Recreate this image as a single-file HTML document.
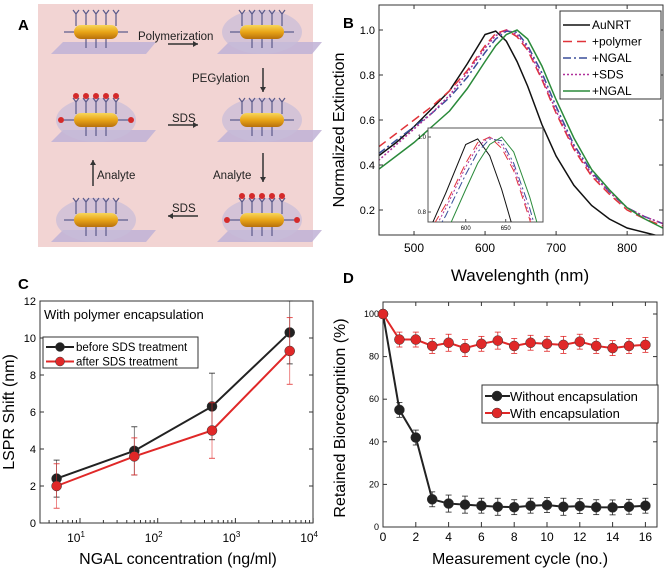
<!DOCTYPE html>
<html><head><meta charset="utf-8"><style>
html,body{margin:0;padding:0;background:#fff;}
svg{display:block;font-family:"Liberation Sans",sans-serif;}
</style></head><body>
<svg id="fig" width="667" height="575" viewBox="0 0 667 575" xmlns="http://www.w3.org/2000/svg">
<!-- Panel A -->
<g id="panelA">
<text x="18" y="30" font-size="15" font-weight="bold">A</text>
<rect x="38" y="4" width="275" height="243" fill="#f2d4d3"/>
</g>
<!-- Panel B -->
<g id="panelB">
<text x="343" y="28" font-size="15" font-weight="bold">B</text>
<text transform="translate(344,130) rotate(-90)" text-anchor="middle" font-size="16">Normalized Extinction</text>
<text x="520" y="281" text-anchor="middle" font-size="17">Wavelenghth (nm)</text>
</g>
<text x="343" y="283" font-size="15" font-weight="bold">D</text>
<text x="18" y="289" font-size="15" font-weight="bold">C</text>
<g id="panelC">
<text transform="translate(14,412) rotate(-90)" text-anchor="middle" font-size="16">LSPR Shift (nm)</text>
<text x="178" y="564" text-anchor="middle" font-size="16">NGAL concentration (ng/ml)</text>
</g>
<g id="panelD">
<text transform="translate(345,418) rotate(-90)" text-anchor="middle" font-size="16">Retained Biorecognition (%)</text>
<text x="520" y="564" text-anchor="middle" font-size="16">Measurement cycle (no.)</text>
</g>
</svg>
<script>
// ---- Panel B data ----
const wavelengths=[450,475,500,525,550,575,600,615,630,645,660,680,700,725,750,775,800,825,850];
const seriesNames=["AuNRT","+polymer","+NGAL","+SDS","+NGAL"];
const auNRT=[.44,.50,.57,.65,.73,.85,.98,.995,.95,.86,.75,.58,.44,.31,.22,.16,.12,.10,.08];
const polymer=[.48,.54,.60,.66,.73,.82,.93,.985,1.0,.97,.91,.78,.63,.47,.35,.27,.20,.16,.13];
const ngal1=[.45,.51,.57,.63,.70,.79,.90,.96,.995,.99,.93,.81,.66,.49,.37,.28,.21,.17,.14];
const sds=[.42,.49,.56,.63,.71,.81,.92,.975,1.0,.98,.92,.79,.64,.48,.36,.28,.21,.17,.14];
const ngal2=[.38,.44,.50,.57,.64,.74,.86,.93,.98,1.0,.96,.84,.69,.52,.38,.29,.21,.16,.12];
const bXTicks=[500,600,700,800];
const bYTicks=[0.2,0.4,0.6,0.8,1.0];
const insetXTicks=[600,650];
const insetYTicks=[0.8,1.0];
// ---- Panel C data ----
const concentrations=[5,50,500,5000];
const beforeSDS=[2.4,3.9,6.3,10.3];
const beforeErr=[1.0,1.3,1.8,1.7];
const afterSDS=[2.0,3.6,5.0,9.3];
const afterErr=[1.2,1.0,1.5,1.8];
const cYTicks=[0,2,4,6,8,10,12];
const cXTickExp=[1,2,3,4];
// ---- Panel D data ----
const cycles=[0,1,2,3,4,5,6,7,8,9,10,11,12,13,14,15,16];
const withoutEnc=[100,55,42,13,11,10.5,10,9.5,9.3,10,10.3,9.5,9.8,9.3,9.2,9.5,10];
const withEnc=[100,88,88,85,86.5,84,86,87.5,85,86.5,86,85.5,87,85,84,85,85.5];
const dErr=[0,3.5,3.5,3.5,4,4,3.5,4,3.5,3.5,3.5,4,3.5,3.5,3.5,3.5,3.5];
const dXTicks=[0,2,4,6,8,10,12,14,16];
const dYTicks=[0,20,40,60,80,100];

const NS="http://www.w3.org/2000/svg";
function mk(tag,attrs,parent,text){const e=document.createElementNS(NS,tag);for(const k in attrs)e.setAttribute(k,attrs[k]);if(text!==undefined)e.textContent=text;parent.appendChild(e);return e;}
const svg=document.getElementById('fig');

// ---- Panel A schematic ----
const pA=document.getElementById('panelA');
const rods=[[96,32,false,false],[262,32,true,false],[96,120,true,true],[262,120,true,false],[96,220,true,false],[262,220,true,true]];
const defs=mk('defs',{},svg);
const lg=mk('linearGradient',{id:'gold',x1:0,y1:0,x2:0,y2:1},defs);
mk('stop',{offset:'0','stop-color':'#f7d65a'},lg);mk('stop',{offset:'0.5','stop-color':'#e8a417'},lg);mk('stop',{offset:'1','stop-color':'#b8700c'},lg);
rods.forEach((r,i)=>{
  const [cx,cy,shell,red]=r;
  const g=mk('g',{},pA);
  
  
  mk('polygon',{points:`${cx-45},${cy+22} ${cx+50},${cy+22} ${cx+60},${cy+10} ${cx-33},${cy+10}`,fill:'#c0b2d6',opacity:0.85},g);
  if(shell) mk('ellipse',{cx:cx,cy:cy,rx:40,ry:22,fill:'#c8bcd8',opacity:0.7},g);
  for(let k=-2;k<=2;k++){
    mk('line',{x1:cx+k*10,y1:cy-6,x2:cx+k*10,y2:cy-18,stroke:'#5a5a8a','stroke-width':1.2},g);
    mk('path',{d:`M${cx+k*10-3},${cy-22} L${cx+k*10},${cy-18} L${cx+k*10+3},${cy-22}`,stroke:'#5a5a8a',fill:'none','stroke-width':1.2},g);
    if(Math.abs(k)<2) mk('line',{x1:cx+k*10,y1:cy+6,x2:cx+k*10,y2:cy+16,stroke:'#5a5a8a','stroke-width':1.2},g);
    if(red) mk('circle',{cx:cx+k*10,cy:cy-24,r:3,fill:'#d42a2a'},g);
  }
  mk('line',{x1:cx-22,y1:cy,x2:cx-32,y2:cy,stroke:'#5a5a8a','stroke-width':1.2},g);
  mk('line',{x1:cx+22,y1:cy,x2:cx+32,y2:cy,stroke:'#5a5a8a','stroke-width':1.2},g);
  if(red){mk('circle',{cx:cx-35,cy:cy,r:3,fill:'#d42a2a'},g);mk('circle',{cx:cx+35,cy:cy,r:3,fill:'#d42a2a'},g);}
  mk('rect',{x:cx-22,y:cy-7,width:44,height:14,rx:7,fill:'url(#gold)'},g);
});
function arrow(x1,y1,x2,y2,name){
  const g=mk('g',{},pA);
  
  
  mk('line',{x1,y1,x2,y2,stroke:'#333','stroke-width':1.5},g);
  const a=Math.atan2(y2-y1,x2-x1),s=5;
  mk('polygon',{points:`${x2},${y2} ${x2-s*Math.cos(a)+3*Math.sin(a)},${y2-s*Math.sin(a)-3*Math.cos(a)} ${x2-s*Math.cos(a)-3*Math.sin(a)},${y2-s*Math.sin(a)+3*Math.cos(a)}`,fill:'#333'},g);
}
const labA=[[138,40,'Polymerization','start'],[192,82,'PEGylation','start'],[172,122,'SDS','start'],[97,179,'Analyte','start'],[213,179,'Analyte','start'],[172,212,'SDS','start']];
labA.forEach(l=>{const t=mk('text',{x:l[0],y:l[1],'font-size':11.5,'text-anchor':l[3],fill:'#222'},pA,l[2]);});
arrow(168,44,198,44,'arrow-polymerization');
arrow(263,68,263,92,'arrow-pegylation');
arrow(168,125,198,125,'arrow-sds-right');
arrow(263,153,263,182,'arrow-analyte-down');
arrow(198,216,168,216,'arrow-sds-left');
arrow(93,186,93,160,'arrow-analyte-up');

// ---- Panel B chart ----
const pB=document.getElementById('panelB');
const bx=v=>378.5+(v-450)*0.7104, by=v=>30+(1.0-v)*225;
const colors=['#111','#e0343a','#3a4f9a','#b0309a','#2a8a3a'];
const dashes=['none','9,5','8,3,2,3','2,2','none'];
const allSeries=[auNRT,polymer,ngal1,sds,ngal2];
const clipB=mk('clipPath',{id:'clipB'},defs);mk('rect',{x:379,y:5,width:284,height:230},clipB);
allSeries.forEach((s,i)=>{
  const p=mk('polyline',{points:wavelengths.map((w,j)=>bx(w)+','+by(s[j])).join(' '),fill:'none',stroke:colors[i],'stroke-width':1.5,'stroke-dasharray':dashes[i],'clip-path':'url(#clipB)'},pB);
  
  
});
const frameB=mk('rect',{x:379,y:5,width:284,height:230,fill:'none',stroke:'#333','stroke-width':1},pB);


bXTicks.forEach(t=>{mk('line',{x1:bx(t),y1:235,x2:bx(t),y2:231,stroke:'#333'},pB);mk('line',{x1:bx(t),y1:5,x2:bx(t),y2:9,stroke:'#333'},pB);const l=mk('text',{x:bx(t),y:252,'text-anchor':'middle','font-size':12},pB,t);});
bYTicks.forEach(t=>{mk('line',{x1:379,y1:by(t),x2:383,y2:by(t),stroke:'#333'},pB);mk('line',{x1:663,y1:by(t),x2:659,y2:by(t),stroke:'#333'},pB);const l=mk('text',{x:375,y:by(t)+4,'text-anchor':'end','font-size':11},pB,t.toFixed(1));});
// legend B
const legB=mk('g',{},pB);


mk('rect',{x:560,y:11,width:101,height:88,fill:'#fff',stroke:'#333'},legB);
seriesNames.forEach((n,i)=>{const y=25+i*16.5;mk('line',{x1:563,y1:y,x2:590,y2:y,stroke:colors[i],'stroke-width':1.5,'stroke-dasharray':dashes[i]},legB);const t=mk('text',{x:592,y:y+4,'font-size':12},legB,n);});
// inset
const ix=v=>465.7+(v-600)*0.8, iy=v=>137+(1.0-v)*375;
const clipI=mk('clipPath',{id:'clipI'},defs);mk('rect',{x:428,y:128,width:115,height:94},clipI);
const inset=mk('g',{},pB);


mk('rect',{x:428,y:128,width:115,height:94,fill:'#fff',stroke:'#555'},inset);
allSeries.forEach((s,i)=>{
  const p=mk('polyline',{points:wavelengths.map((w,j)=>ix(w)+','+iy(s[j])).join(' '),fill:'none',stroke:colors[i],'stroke-width':1,'stroke-dasharray':dashes[i],'clip-path':'url(#clipI)'},inset);
  
  
});
insetXTicks.forEach(t=>{mk('line',{x1:ix(t),y1:222,x2:ix(t),y2:219,stroke:'#555'},inset);mk('text',{x:ix(t),y:230,'text-anchor':'middle','font-size':6},inset,t);});
insetYTicks.forEach(t=>{mk('line',{x1:428,y1:iy(t),x2:431,y2:iy(t),stroke:'#555'},inset);mk('text',{x:426,y:iy(t)+2,'text-anchor':'end','font-size':6},inset,t.toFixed(1));});

// ---- Panel C ----
const pC=document.getElementById('panelC');
const cx=v=>80+(Math.log10(v)-1)*77.7, cy=v=>523-v*18.5;
mk('rect',{x:40,y:301,width:273,height:222,fill:'none',stroke:'#333'},pC);
cYTicks.forEach(t=>{mk('line',{x1:40,y1:cy(t),x2:44,y2:cy(t),stroke:'#333'},pC);mk('line',{x1:313,y1:cy(t),x2:309,y2:cy(t),stroke:'#333'},pC);const l=mk('text',{x:36,y:cy(t)+4,'text-anchor':'end','font-size':11},pC,t);});
cXTickExp.forEach(e=>{const x=cx(Math.pow(10,e));mk('line',{x1:x,y1:523,x2:x,y2:518,stroke:'#333'},pC);const l=mk('text',{x:x-4,y:542,'text-anchor':'middle','font-size':12},pC,'10');mk('tspan',{dy:-5,'font-size':8},l,e);
  for(let m=2;m<10;m++){const v=Math.pow(10,e-1)*m;const xx=cx(v);if(xx>40)mk('line',{x1:xx,y1:523,x2:xx,y2:520,stroke:'#333'},pC);}});
function cSeries(vals,errs,color,name){
  const g=mk('g',{},pC);
  
  
  vals.forEach((v,i)=>{const x=cx(concentrations[i]);mk('line',{x1:x,y1:cy(v-errs[i]),x2:x,y2:cy(v+errs[i]),stroke:color,'stroke-width':0.8,opacity:0.7},g);mk('line',{x1:x-3,y1:cy(v-errs[i]),x2:x+3,y2:cy(v-errs[i]),stroke:color,'stroke-width':0.8},g);mk('line',{x1:x-3,y1:cy(v+errs[i]),x2:x+3,y2:cy(v+errs[i]),stroke:color,'stroke-width':0.8},g);});
  mk('polyline',{points:vals.map((v,i)=>cx(concentrations[i])+','+cy(v)).join(' '),fill:'none',stroke:color,'stroke-width':2},g);
  vals.forEach((v,i)=>{const c=mk('circle',{cx:cx(concentrations[i]),cy:cy(v),r:5,fill:color,stroke:'#333','stroke-width':0.5},g);});
}
cSeries(beforeSDS,beforeErr,'#222','series-before-sds');
cSeries(afterSDS,afterErr,'#e02828','series-after-sds');
mk('text',{x:44,y:319,'font-size':13},pC,'With polymer encapsulation');
const legC=mk('g',{},pC);


mk('rect',{x:43,y:337,width:155,height:31,fill:'#fff',stroke:'#333'},legC);
[['before SDS treatment','#222'],['after SDS treatment','#e02828']].forEach((e,i)=>{const y=347+i*14.5;mk('line',{x1:46,y1:y,x2:74,y2:y,stroke:e[1],'stroke-width':2},legC);mk('circle',{cx:60,cy:y,r:4.5,fill:e[1],stroke:'#333','stroke-width':0.5},legC);mk('text',{x:76,y:y+4,'font-size':11.5},legC,e[0]);});

// ---- Panel D ----
const pD=document.getElementById('panelD');
const dx=v=>383+v*16.4, dy=v=>527-v*2.13;
mk('rect',{x:383,y:302,width:274,height:225,fill:'none',stroke:'#333'},pD);
dXTicks.forEach(t=>{mk('line',{x1:dx(t),y1:527,x2:dx(t),y2:522,stroke:'#333'},pD);mk('line',{x1:dx(t),y1:302,x2:dx(t),y2:306,stroke:'#333'},pD);const l=mk('text',{x:dx(t),y:541,'text-anchor':'middle','font-size':12},pD,t);});
dYTicks.forEach(t=>{mk('line',{x1:383,y1:dy(t),x2:387,y2:dy(t),stroke:'#333'},pD);mk('line',{x1:657,y1:dy(t),x2:653,y2:dy(t),stroke:'#333'},pD);const l=mk('text',{x:379,y:dy(t)+3,'text-anchor':'end','font-size':9},pD,t);});
function dSeries(vals,color,name){
  const g=mk('g',{},pD);
  
  
  vals.forEach((v,i)=>{if(!dErr[i])return;const x=dx(cycles[i]);[[v-dErr[i],v+dErr[i]]].forEach(([a,b])=>{mk('line',{x1:x,y1:dy(a),x2:x,y2:dy(b),stroke:color,'stroke-width':0.8},g);mk('line',{x1:x-3,y1:dy(a),x2:x+3,y2:dy(a),stroke:color,'stroke-width':0.8},g);mk('line',{x1:x-3,y1:dy(b),x2:x+3,y2:dy(b),stroke:color,'stroke-width':0.8},g);});});
  mk('polyline',{points:vals.map((v,i)=>dx(cycles[i])+','+dy(v)).join(' '),fill:'none',stroke:color,'stroke-width':2},g);
  vals.forEach((v,i)=>{const c=mk('circle',{cx:dx(cycles[i]),cy:dy(v),r:5,fill:color,stroke:'#333','stroke-width':0.5},g);});
}
dSeries(withoutEnc,'#222','series-without-encapsulation');
dSeries(withEnc,'#e02828','series-with-encapsulation');
const legD=mk('g',{},pD);


mk('rect',{x:482,y:385,width:176,height:38,fill:'#fff',stroke:'#333'},legD);
[['Without encapsulation','#222'],['With encapsulation','#e02828']].forEach((e,i)=>{const y=396+i*17;mk('line',{x1:485,y1:y,x2:510,y2:y,stroke:e[1],'stroke-width':2},legD);mk('circle',{cx:497,cy:y,r:5,fill:e[1],stroke:'#333','stroke-width':0.5},legD);mk('text',{x:510,y:y+5,'font-size':13},legD,e[0]);});
</script>
</body></html>
